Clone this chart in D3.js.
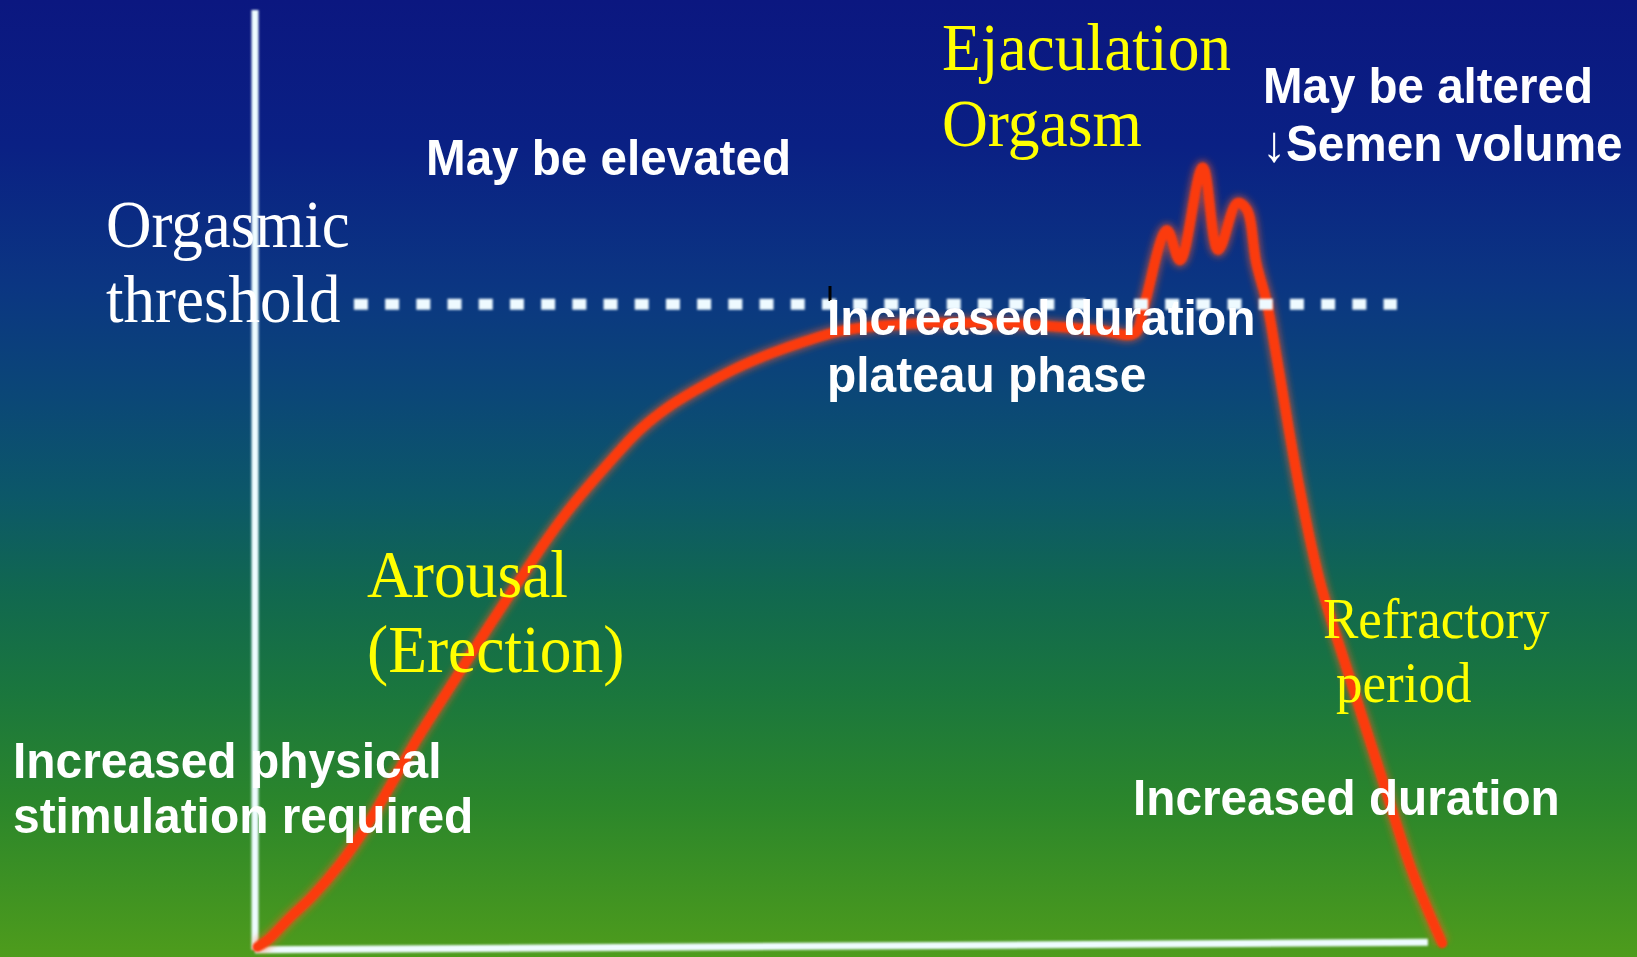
<!DOCTYPE html>
<html lang="en">
  <head>
    <meta charset="UTF-8" />
    <title>Orgasmic threshold – response curve</title>
    <script src="https://d3js.org/d3.v7.min.js"></script>
    <style>
      html,
      body {
        margin: 0;
        padding: 0;
        overflow: hidden;
        background: #0b1880;
      }

      svg {
        display: block;
      }

      .serif {
        font-family: 'Liberation Serif', 'Times New Roman', serif;
      }

      .sans {
        font-family: 'Liberation Sans', Arial, sans-serif;
        font-weight: bold;
      }
    </style>
  </head>
  <body>
    <svg width="1637" height="957"></svg>

    <script>
      // response curve, time (0-100) against level of arousal (0-100)
      const time = [
        0.2, 1.2, 2.9, 4.8, 7.1, 9.2, 11.3, 13.6, 16.4, 19.1, 21.9, 24.6, 26.6,
        29.5, 32.2, 35.0, 37.9, 40.6, 43.4, 46.3, 49.0, 52.4, 58.3, 65.0, 70.9,
        73.8, 74.6, 76.5, 77.6, 79.5, 80.8, 82.4, 83.2, 84.0, 84.9, 85.7, 87.5,
        89.3, 91.9, 94.6, 97.1, 99.6,
      ];
      const level = [
        0, 0.9, 3.1, 5.4, 8.8, 12.6, 17.1, 22.2, 27.8, 33.2, 38.6, 43.7, 47.1,
        51.4, 55.1, 57.9, 60.1, 61.9, 63.4, 64.7, 65.7, 66.3, 66.6, 66.4, 65.8,
        65.5, 68.5, 76.5, 73.3, 83.2, 74.4, 79.4, 78.7, 73.0, 68.7, 63.0, 49.8,
        39.2, 28.5, 17.8, 8.0, 0.4,
      ];

      // orgasmic threshold and where its dotted line runs
      const threshold = 68.6;
      const thresholdSpan = [8.3, 95.8];

      // axis ends (the time axis sits slightly askew in the original)
      const timeAxis = [
        [0, -0.3],
        [98.4, 0.5],
      ];
      const levelAxis = [
        [0, -0.3],
        [0, 100],
      ];

      const svg = d3.select('svg');
      const W = 1637,
        H = 957;

      const x = d3.scaleLinear().domain([0, 100]).range([255, 1447]);
      const y = d3.scaleLinear().domain([0, 100]).range([947, 10]);

      const defs = svg.append('defs');

      // background: navy at top fading to green at bottom
      const bg = defs
        .append('linearGradient')
        .attr('id', 'bg')
        .attr('x1', 0)
        .attr('y1', 0)
        .attr('x2', 0)
        .attr('y2', 1);
      [
        [0, '#0b1780'],
        [0.15, '#0a2084'],
        [0.3, '#0b3682'],
        [0.42, '#0b4876'],
        [0.52, '#0c5868'],
        [0.62, '#11684f'],
        [0.72, '#1a763e'],
        [0.84, '#2b862b'],
        [1, '#4e9c1c'],
      ].forEach(([o, c]) =>
        bg.append('stop').attr('offset', o).attr('stop-color', c),
      );

      function blur(id, sd) {
        defs
          .append('filter')
          .attr('id', id)
          .attr('filterUnits', 'userSpaceOnUse')
          .attr('x', 0)
          .attr('y', 0)
          .attr('width', W)
          .attr('height', H)
          .append('feGaussianBlur')
          .attr('stdDeviation', sd);
      }
      blur('soft', 1.2);
      blur('glow', 3);

      svg
        .append('rect')
        .attr('width', W)
        .attr('height', H)
        .attr('fill', 'url(#bg)');

      const seg = d3
        .line()
        .x((d) => x(d[0]))
        .y((d) => y(d[1]));

      // axes
      const axes = svg
        .append('g')
        .attr('fill', 'none')
        .attr('stroke', '#eefcff')
        .attr('stroke-width', 7)
        .attr('filter', 'url(#soft)');
      axes.append('path').attr('d', seg(levelAxis));
      axes.append('path').attr('d', seg(timeAxis));

      // response curve
      const pts = d3.zip(time, level);
      const line = d3
        .line()
        .x((d) => x(d[0]))
        .y((d) => y(d[1]))
        .curve(d3.curveCatmullRom.alpha(0.5));

      svg
        .append('path')
        .attr('d', line(pts))
        .attr('fill', 'none')
        .attr('stroke', '#ff5a22')
        .attr('stroke-width', 15)
        .attr('stroke-opacity', 0.5)
        .attr('stroke-linejoin', 'round')
        .attr('filter', 'url(#glow)');
      svg
        .append('path')
        .attr('d', line(pts))
        .attr('fill', 'none')
        .attr('stroke', '#fb3a0e')
        .attr('stroke-width', 10)
        .attr('stroke-linejoin', 'round')
        .attr('stroke-linecap', 'round')
        .attr('filter', 'url(#soft)');

      // orgasmic threshold
      svg
        .append('path')
        .attr(
          'd',
          seg([
            [thresholdSpan[0], threshold],
            [thresholdSpan[1], threshold],
          ]),
        )
        .attr('stroke', '#eefaff')
        .attr('stroke-width', 11)
        .attr('stroke-dasharray', '14 17.2')
        .attr('filter', 'url(#soft)');

      // small black tick left over on the plateau
      svg
        .append('line')
        .attr('x1', 830)
        .attr('x2', 830)
        .attr('y1', 286)
        .attr('y2', 301)
        .attr('stroke', '#000')
        .attr('stroke-width', 3);

      // annotations (the original lettering is slightly stretched upward)
      const labels = [
        { lines: ['Orgasmic', 'threshold'], x: 106, y: 247, dy: 75, cls: 'serif', size: 63, fill: '#ffffff' },
        { lines: ['May be elevated'], x: 426, y: 175, dy: 0, cls: 'sans', size: 47.6, fill: '#ffffff' },
        { lines: ['Ejaculation', 'Orgasm'], x: 942, y: 70, dy: 76, cls: 'serif', size: 63.5, fill: '#ffff00' },
        { lines: ['May be altered'], x: 1263, y: 103, dy: 0, cls: 'sans', size: 47.5, fill: '#ffffff' },
        { lines: ['Increased duration', 'plateau phase'], x: 827, y: 335, dy: 57, cls: 'sans', size: 47.9, fill: '#ffffff' },
        { lines: ['Arousal', '(Erection)'], x: 367, y: 597, dy: 75, cls: 'serif', size: 63.5, fill: '#ffff00' },
        { lines: ['Increased physical', 'stimulation required'], x: 13, y: 778, dy: 55, cls: 'sans', size: 47.9, fill: '#ffffff' },
        { lines: ['Refractory'], x: 1323, y: 638, dy: 0, cls: 'serif', size: 53, fill: '#ffff00' },
        { lines: ['period'], x: 1336, y: 702, dy: 0, cls: 'serif', size: 53, fill: '#ffff00' },
        { lines: ['Increased duration'], x: 1133, y: 815, dy: 0, cls: 'sans', size: 47.7, fill: '#ffffff' },
      ];
      const stretch = { serif: 1.07, sans: 1.06 };

      labels.forEach((l) => {
        const sy = stretch[l.cls];
        const t = svg
          .append('text')
          .attr('class', l.cls)
          .attr('font-size', l.size)
          .attr('fill', l.fill)
          .attr('transform', `translate(${l.x},${l.y}) scale(1,${sy})`);
        l.lines.forEach((s, i) =>
          t
            .append('tspan')
            .attr('x', 0)
            .attr('y', (i * l.dy) / sy)
            .text(s),
        );
      });

      // down arrow + Semen volume
      const sv = svg
        .append('text')
        .attr('class', 'sans')
        .attr('font-size', 47.7)
        .attr('fill', '#ffffff')
        .attr('transform', `translate(1262,161) scale(1,${stretch.sans})`);
      sv.append('tspan')
        .attr('x', 0)
        .attr('font-family', "'Liberation Serif', serif")
        .attr('font-weight', 'normal')
        .text('↓');
      sv.append('tspan').attr('x', 24).text('Semen volume');
    </script>
  </body>
</html>
